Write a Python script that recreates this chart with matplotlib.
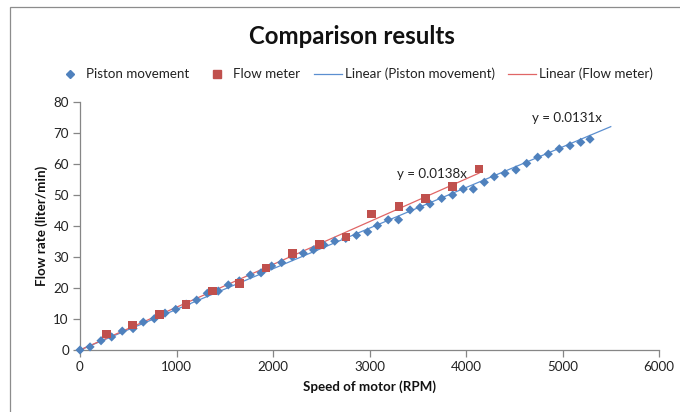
import matplotlib
matplotlib.use("Agg")
import matplotlib.pyplot as plt
from matplotlib.lines import Line2D
from matplotlib.patches import Rectangle
import numpy as np

# Piston movement measurements (motor speed in RPM, flow in liter/min)
piston_rpm = [0, 104, 218, 328, 438, 550, 656, 770, 881, 992, 1100, 1209, 1319,
              1433, 1537, 1651, 1765, 1876, 1986, 2090, 2200, 2314, 2420, 2528,
              2640, 2754, 2865, 2981, 3083, 3194, 3301, 3420, 3523, 3627, 3748,
              3862, 3972, 4076, 4190, 4293, 4404, 4518, 4629, 4743, 4853, 4967,
              5078, 5189, 5285]
piston_flow = [0, 1.0, 3.0, 4.2, 6.1, 6.9, 9.0, 10.1, 11.9, 13.1, 14.8, 16.1, 18.3,
               19.0, 21.0, 22.3, 24.2, 24.9, 27.1, 28.2, 30.1, 31.2, 32.3, 33.9,
               35.1, 36.0, 37.0, 38.1, 40.1, 42.0, 42.0, 45.2, 46.0, 47.1, 48.9,
               50.0, 51.9, 51.9, 54.1, 55.9, 57.0, 58.1, 60.2, 62.2, 63.2, 64.9,
               65.9, 67.0, 68.0]

# Flow meter readings
meter_rpm = [277, 542, 822, 1098, 1375, 1651, 1927, 2200, 2480, 2756, 3023,
             3306, 3582, 3858, 4135]
meter_flow = [5.2, 8.0, 11.5, 14.7, 19.0, 21.5, 26.4, 31.1, 34.0, 36.4, 43.9,
              46.2, 48.8, 52.7, 58.4]

# Linear trendlines through the origin
piston_slope = 0.0131
meter_slope = 0.0138
piston_trend_end = 5500

BLUE = "#4F81BD"
RED = "#C0504D"
BLUE_LINE = "#5B8FD0"
RED_LINE = "#E06666"
AXIS_GREY = "#868686"
FONT = ["Lato", "DejaVu Sans"]

plt.rcParams["font.family"] = FONT

fig = plt.figure(figsize=(6.8, 4.12), dpi=100)
fig.patch.set_facecolor("white")

# chart border
fig.add_artist(Rectangle((10 / 680, -0.1), 1.2, 1 - 7 / 412 + 0.1,
                         transform=fig.transFigure, fill=False,
                         edgecolor="#8C8C8C", linewidth=0.9))

ax = fig.add_axes([80 / 680, 62 / 412, 579 / 680, 248 / 412])

tx = np.array([0, piston_trend_end])
ax.plot(tx, piston_slope * tx, color=BLUE_LINE, linewidth=0.9, zorder=2)
tx2 = np.array([0, max(meter_rpm)])
ax.plot(tx2, meter_slope * tx2, color=RED_LINE, linewidth=0.9, zorder=2)

ax.scatter(piston_rpm, piston_flow, marker="D", s=22, color=BLUE,
           edgecolors="none", zorder=3, clip_on=False)
ax.scatter(meter_rpm, meter_flow, marker="s", s=38, color=RED,
           edgecolors="none", zorder=4, clip_on=False)

ax.text(3648, 56.8, f"y = {meter_slope:.4f}x", ha="center", va="center",
        fontsize=9.6, color="#222222")
ax.text(5047, 74.8, f"y = {piston_slope:.4f}x", ha="center", va="center",
        fontsize=9.6, color="#222222")

ax.set_xlim(0, 6000)
ax.set_ylim(0, 80)
ax.set_xticks(range(0, 6001, 1000))
ax.set_yticks(range(0, 81, 10))
for side in ("top", "right"):
    ax.spines[side].set_visible(False)
for side in ("left", "bottom"):
    ax.spines[side].set_color(AXIS_GREY)
    ax.spines[side].set_linewidth(0.9)
ax.tick_params(direction="out", length=5, width=0.9, color=AXIS_GREY,
               labelsize=9.6, labelcolor="#222222", pad=3)

ax.set_xlabel("Speed of motor (RPM)", fontsize=9.6, fontweight="bold",
              color="#111111", labelpad=5)
ax.set_ylabel("Flow rate (liter/min)", fontsize=9.6, fontweight="bold",
              color="#111111", labelpad=4)

fig.text(352 / 680, 1 - 37 / 412, "Comparison results", ha="center",
         va="center", fontsize=17.3, fontweight="bold", color="#111111")

handles = [
    Line2D([], [], linestyle="none", marker="D", markersize=4.5, color=BLUE),
    Line2D([], [], linestyle="none", marker="s", markersize=6, color=RED),
    Line2D([], [], color=BLUE_LINE, linewidth=0.9),
    Line2D([], [], color=RED_LINE, linewidth=0.9),
]
labels = ["Piston movement", "Flow meter", "Linear (Piston movement)",
          "Linear (Flow meter)"]
fig.legend(handles, labels, loc="center",
           bbox_to_anchor=(354 / 680, 1 - 74 / 412),
           ncol=4, frameon=False, fontsize=9.6, handlelength=2.1,
           handletextpad=0.2, columnspacing=1.0, labelcolor="#222222")

fig.savefig("out.png", dpi=100, facecolor="white")
